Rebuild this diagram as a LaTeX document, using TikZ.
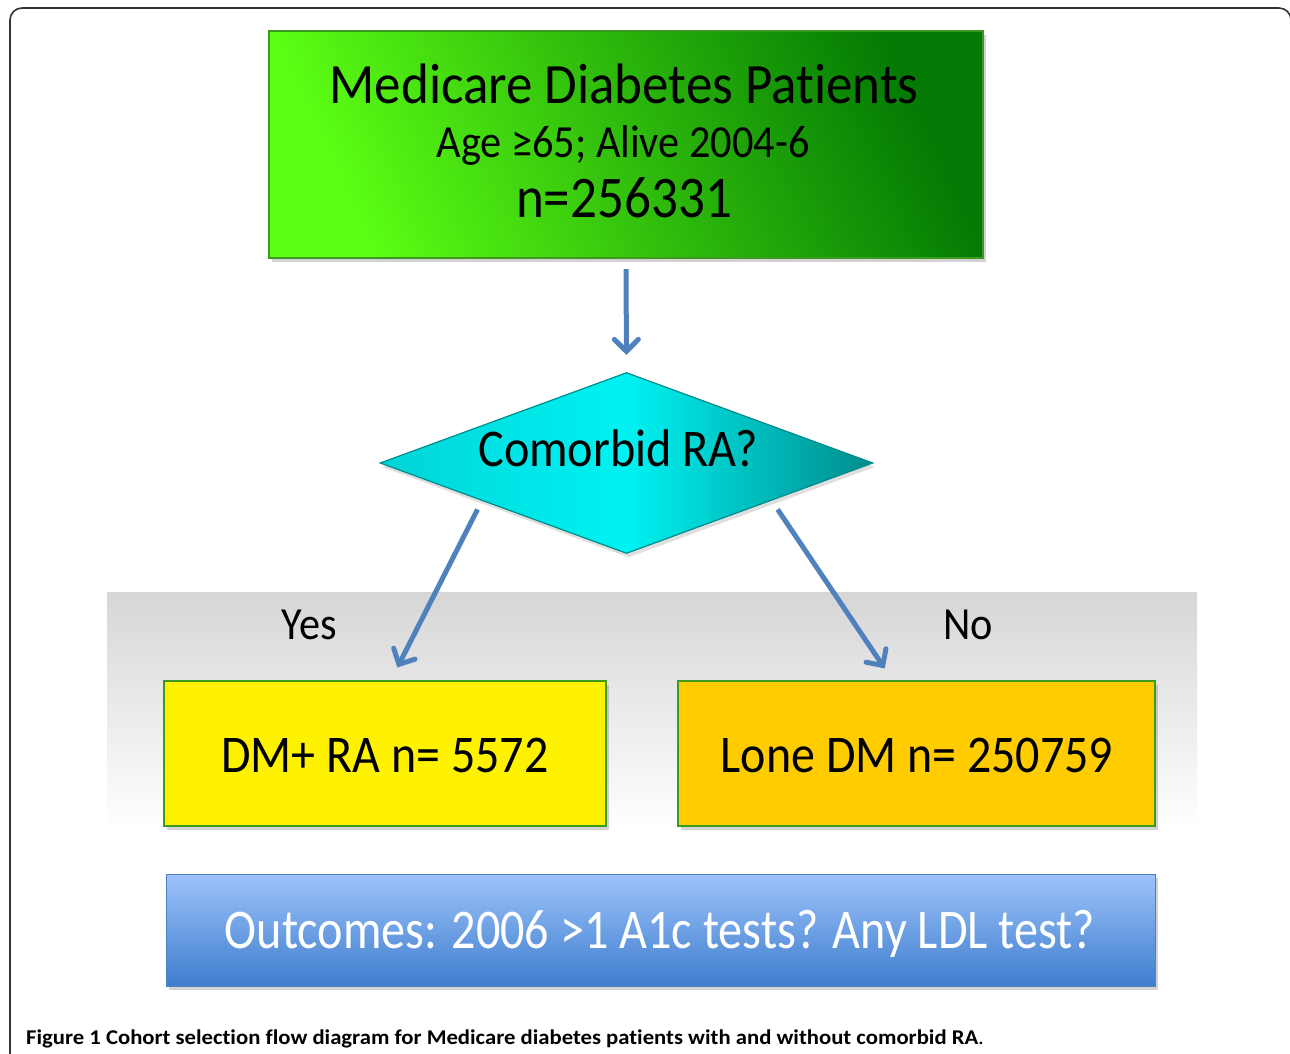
\documentclass[tikz,border=0pt]{standalone}
\usepackage{fontspec}
\setmainfont{Carlito}[Ligatures=NoCommon]
\usepackage{tikz}
\usetikzlibrary{shapes.geometric,arrows.meta,shadows}
\definecolor{arrowblue}{HTML}{4F81BD}
\definecolor{boxgreen}{HTML}{3C9A1E}
\definecolor{lime}{HTML}{5CFF14}
\definecolor{darkgreen}{HTML}{047A04}
\definecolor{cyanleft}{HTML}{00D4D8}
\definecolor{cyanmid}{HTML}{00F2F2}
\definecolor{tealdark}{HTML}{008C8C}
\definecolor{orangebox}{HTML}{FFCC00}
\definecolor{bluetop}{HTML}{9DC3FB}
\definecolor{bluebottom}{HTML}{3E7DCD}
\newcommand\squeeze[2]{\scalebox{#1}[1]{#2}}

\begin{document}
\begin{tikzpicture}[x=1pt, y=-1pt,
  box/.style = {draw=boxgreen, line width=2pt, rectangle, inner sep=0pt,
    drop shadow={shadow xshift=3pt, shadow yshift=-4pt, opacity=0.35}},
  txt/.style = {inner sep=0pt, anchor=base},
  flow/.style = {draw=arrowblue, line width=5pt,
    -{Straight Barb[length=12pt, width=24pt, line cap=round]}}]
	\useasboundingbox (0,0) rectangle (1290,1053);
	\fill[white] (0,0) rectangle (1290,1053);
	\begin{scope}
	\clip (0,0) rectangle (1290,1053);
	\draw[line width=1.6pt, black!80, rounded corners=12pt] (10,8) rectangle (1291,1080);
	\end{scope}
	% grey band behind the two groups
	\shade[top color=black!16, bottom color=white] (107,592) rectangle (1197,830);
	\node[box, minimum width=714pt, minimum height=227pt, shading=axis,
	  left color=lime, right color=darkgreen, shading angle=115] (top) at (626,144.5) {};
	\node[txt, font=\fontsize{57}{60}\selectfont] (t1) at (624,103) {\squeeze{0.93}{Medicare Diabetes Patients}};
	\node[txt, font=\fontsize{46}{50}\selectfont] (t2) at (623,157) {\squeeze{0.92}{Age ≥65; Alive 2004-6}};
	\node[txt, font=\fontsize{59}{62}\selectfont] (t3) at (624,217) {\squeeze{0.9}{n=256331}};
	\node[diamond, draw=tealdark, line width=1.2pt, inner sep=0pt, minimum width=493pt, minimum height=181pt,
	  left color=cyanleft, right color=tealdark, middle color=cyanmid,
	  drop shadow={shadow xshift=2pt, shadow yshift=-4pt, opacity=0.25}] (ra) at (626.5,463) {};
	\node[txt, font=\fontsize{53}{56}\selectfont] (ratext) at (618,466) {\squeeze{0.91}{Comorbid RA?}};
	\node[box, fill=yellow, minimum width=442pt, minimum height=145pt] (yesbox) at (385,753.5) {};
	\node[txt, font=\fontsize{53}{56}\selectfont] (yestext) at (385,772) {\squeeze{0.905}{DM+ RA n= 5572}};
	\node[box, fill=orangebox, minimum width=477pt, minimum height=145pt] (nobox) at (916.5,753.5) {};
	\node[txt, font=\fontsize{53}{56}\selectfont] (notext) at (917,772) {\squeeze{0.905}{Lone DM n= 250759}};
	\node[txt, font=\fontsize{46}{50}\selectfont] (yes) at (309,639) {\squeeze{0.92}{Yes}};
	\node[txt, font=\fontsize{46}{50}\selectfont] (no) at (968,639) {\squeeze{0.92}{No}};
	\node[draw=arrowblue, line width=1pt, rectangle, inner sep=0pt, minimum width=989pt, minimum height=112pt,
	  top color=bluetop, bottom color=bluebottom,
	  drop shadow={shadow xshift=3pt, shadow yshift=-4pt, opacity=0.35}] (out) at (660.5,930) {};
	\node[txt, white, font=\fontsize{56}{60}\selectfont] (outtext) at (660,948) {\squeeze{0.86}{Outcomes: 2006 >1 A1c tests? Any LDL test?}};
	\draw[flow, shorten <=10pt, shorten >=17pt] (top.south) -- (ra.north);
	\draw[flow, shorten <=1pt, shorten >=14pt] ([xshift=-25pt]ra.south west) -- ([xshift=6pt]yesbox.north);
	\draw[flow, shorten <=1pt, shorten >=14pt] ([xshift=27pt]ra.south east) -- ([xshift=-24pt]nobox.north);
	\node[inner sep=0pt, anchor=base west, font=\fontsize{21}{24}\selectfont] (caption) at (26,1044)
	  {\squeeze{1.08}{\textbf{Figure 1 Cohort selection flow diagram for Medicare diabetes patients with and without comorbid RA}.}};
\end{tikzpicture}
\end{document}
